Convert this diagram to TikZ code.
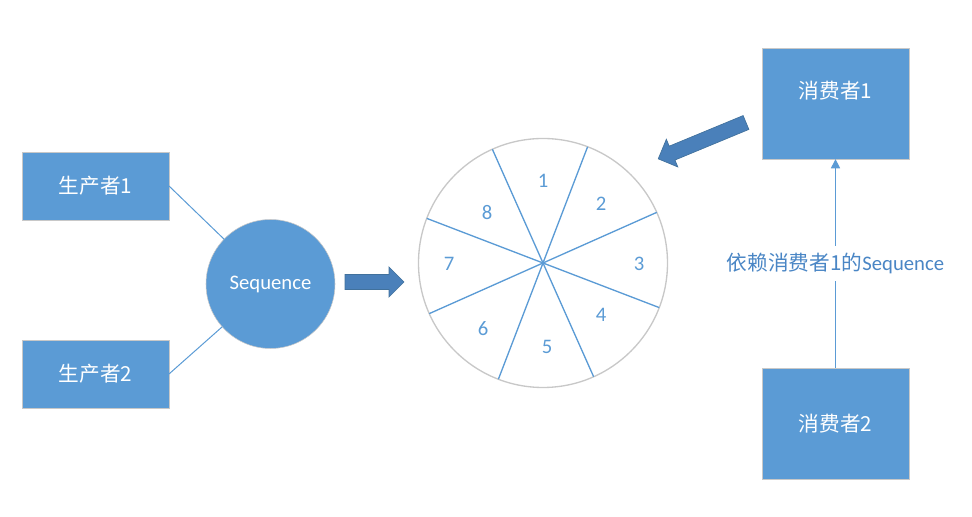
\documentclass[tikz,border=0pt]{standalone}
\usepackage{fontspec}
\setmainfont{Carlito}
\newfontfamily\cjk{Noto Sans CJK SC}
\usetikzlibrary{arrows.meta}

\definecolor{boxblue}{HTML}{5B9BD5}
\definecolor{arrowblue}{HTML}{4A80BA}
\definecolor{arrowedge}{HTML}{41719C}
\definecolor{rimgray}{HTML}{C8C8C8}
\definecolor{textblue}{HTML}{4A86C5}

\tikzset{
  boxtext/.style={text=white, font=\fontsize{15.5}{18}\selectfont},
  box/.style={boxtext, draw=rimgray, fill=boxblue, minimum width=110.25pt, outer sep=0pt},
  smallbox/.style={box, minimum height=51pt},
  bigbox/.style={box, minimum height=83.25pt},
  link/.style={draw=boxblue, line width=0.75pt},
  spoke/.style={draw=boxblue, line width=1pt},
  digit/.style={text=boxblue, font=\fontsize{15.5}{18}\selectfont},
  barrowstyle/.style={fill=arrowblue, draw=arrowedge, line width=0.5pt, line join=miter},
}

% block arrow: tail point, angle, length
\newcommand{\blockarrow}[3]{%
  \draw[barrowstyle, shift={#1}, rotate=#2] (0,-7.5) -- ({#3-15},-7.5) -- ({#3-15},-15)
    -- (#3,0) -- ({#3-15},15) -- ({#3-15},7.5) -- (0,7.5) -- cycle;}

\begin{document}
\begin{tikzpicture}[x=0.75pt, y=0.75pt]
\useasboundingbox (0,0) rectangle (972,517);

% producers
\node[smallbox] (p1) at (95.5,331) {\cjk 生产者1};
\node[smallbox] (p2) at (95.5,143) {\cjk 生产者2};
\node[boxtext, circle, draw=rimgray, fill=boxblue, minimum size=96.75pt, outer sep=0pt] (seq) at (270.5,233) {Sequence};
\draw[link] (p1.east) -- (seq);
\draw[link] (p2.east) -- (seq);
\blockarrow{(345,235)}{0}{59}

% ring buffer
\node[circle, draw=rimgray, line width=1pt, minimum size=186.75pt, inner sep=0pt, outer sep=0pt] (ring) at (543,254) {};
\foreach \a [evaluate=\a as \b using \a+180] in {24.5,69.5,114.5,159.5}
  \draw[spoke] (ring.\a) -- (ring.\b);
\foreach \n/\dx/\dy in {1/0/82, 2/58/59, 3/96/-1, 4/58/-52, 5/4/-84, 6/-60/-66, 7/-94/-1, 8/-56/50}
  \node[digit] (d\n) at ([shift={(\dx,\dy)}]ring.center) {\n};

% consumers
\node[bigbox, label={[boxtext, yshift=10pt]center:\cjk 消费者1}] (c1) at (835.5,413.5) {};
\node[bigbox] (c2) at (835.5,93.5) {\cjk 消费者2};
\draw[link, line width=1pt, -{Triangle[width=6.75pt,length=7pt]}] (c2.north)
  -- node[fill=white, text=textblue, font=\fontsize{15.5}{18}\selectfont, inner xsep=1pt, inner ysep=5pt] (dep) {{\cjk 依赖消费者1的}Sequence} (c1.south);
\blockarrow{(746,394.5)}{202.5}{95}
\end{tikzpicture}
\end{document}
